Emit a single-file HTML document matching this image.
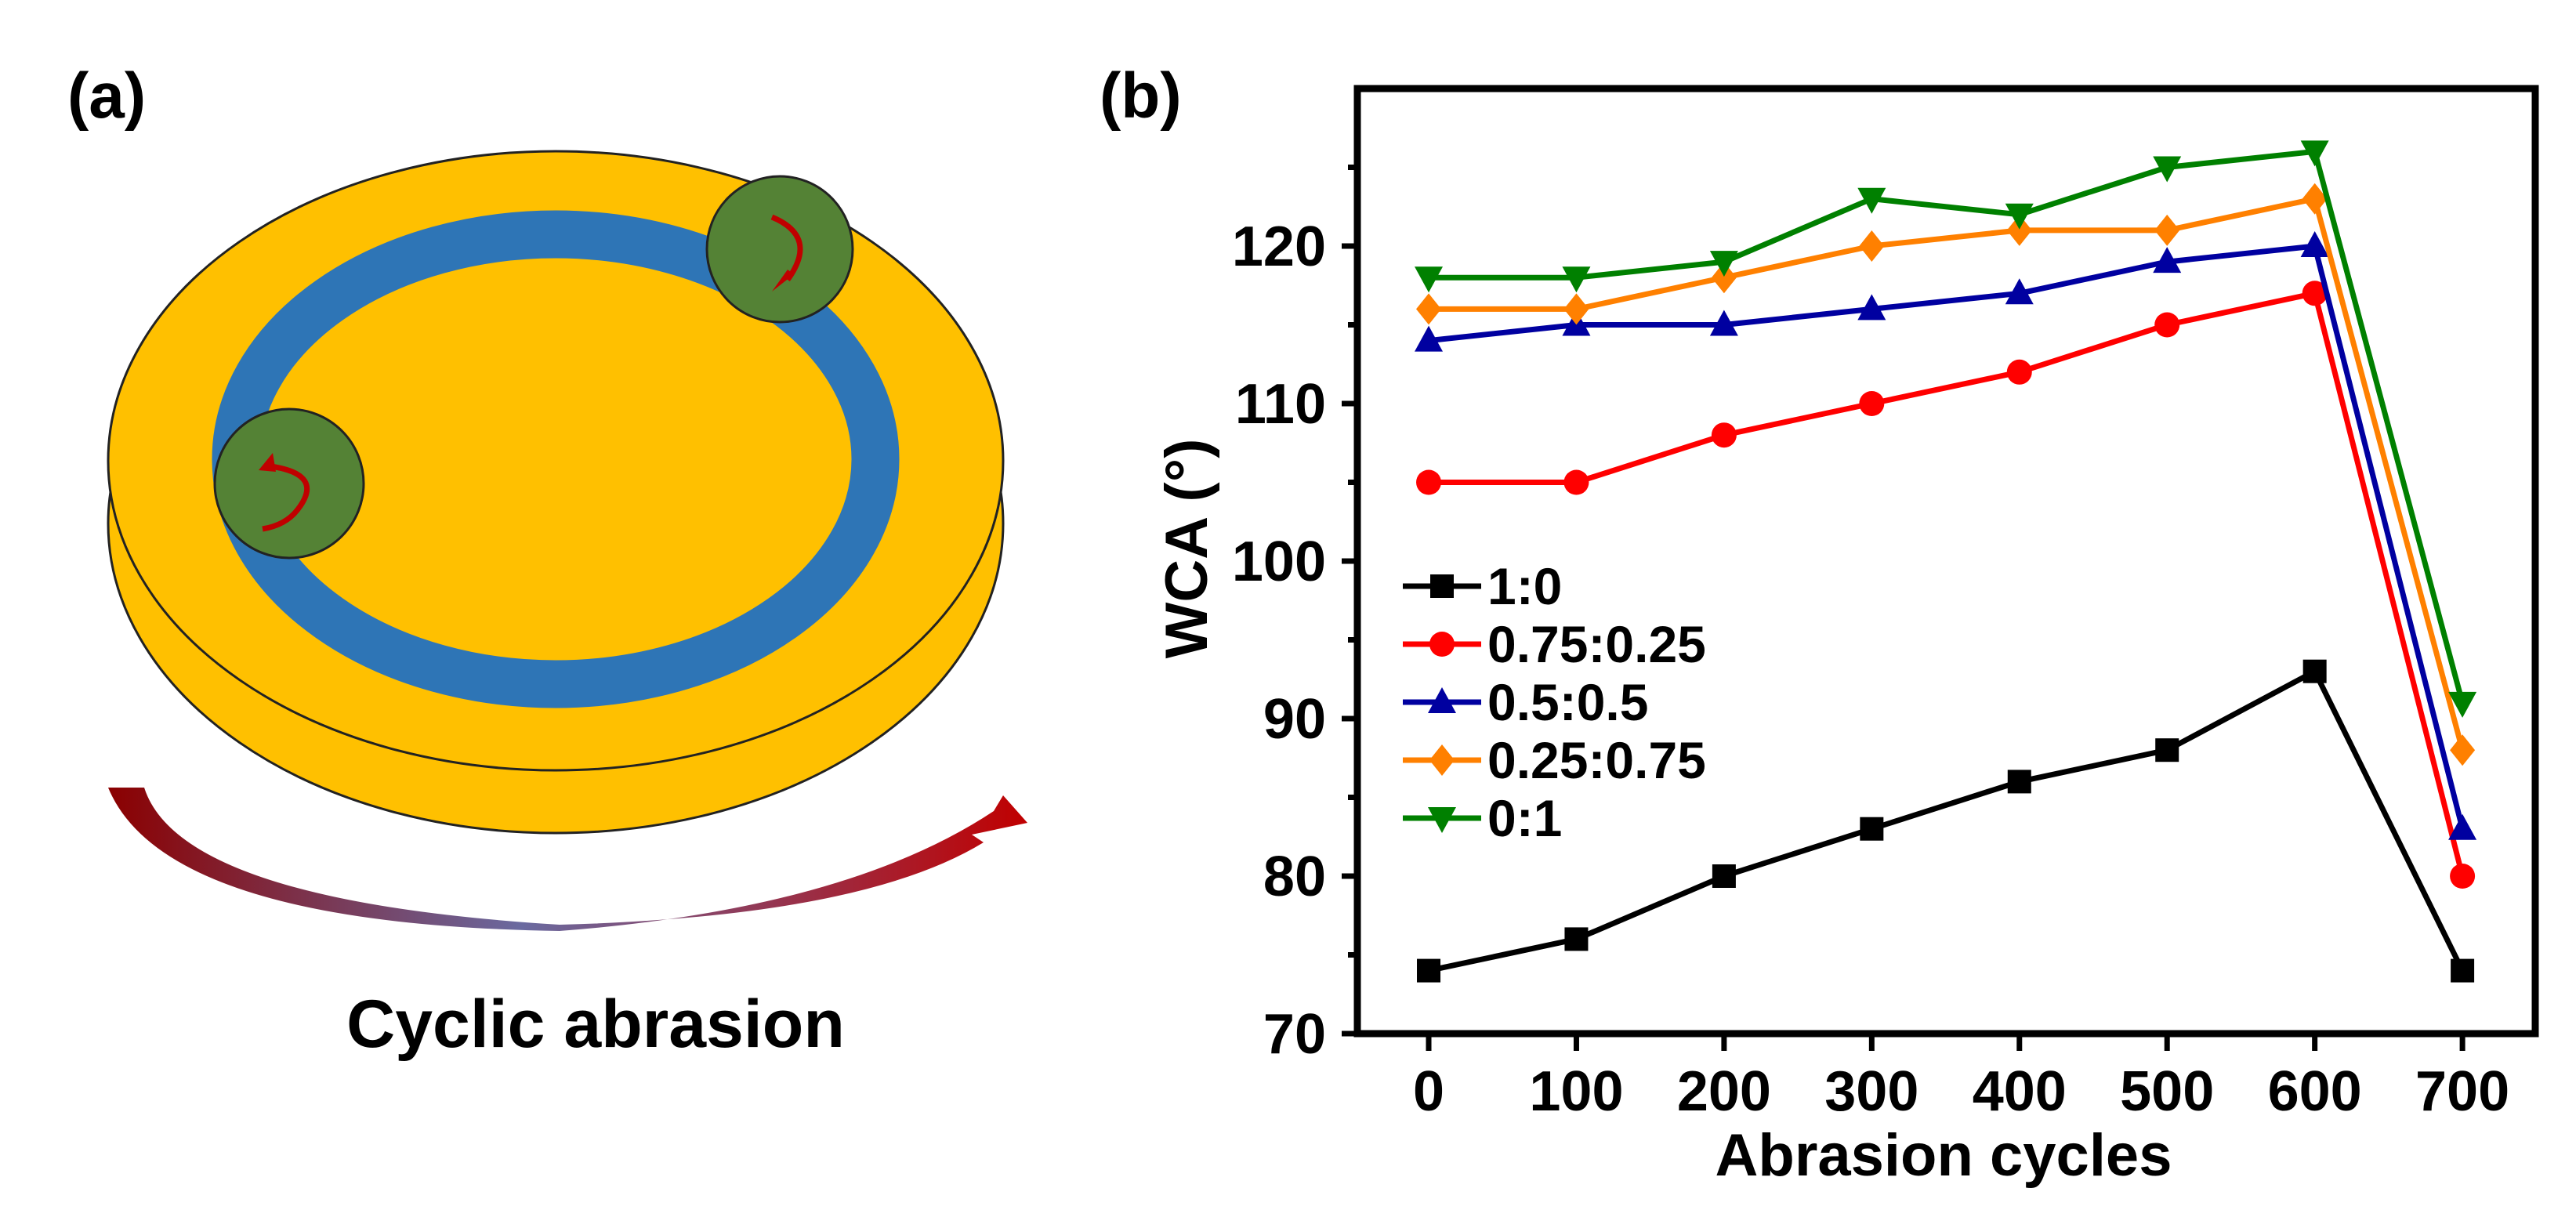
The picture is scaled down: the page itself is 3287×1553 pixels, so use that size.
<!DOCTYPE html>
<html><head><meta charset="utf-8"><style>
html,body{margin:0;padding:0;background:#fff;}
svg{display:block;font-family:"Liberation Sans",Arial,sans-serif;font-weight:bold;}
</style></head><body>
<svg id="root" width="3287" height="1553" viewBox="0 0 3287 1553" xmlns="http://www.w3.org/2000/svg">
<defs>
<linearGradient id="arrowGrad" x1="0" y1="0" x2="1" y2="0">
<stop offset="0" stop-color="#8b0000"/><stop offset="0.45" stop-color="#6a6aa0"/><stop offset="1" stop-color="#c00000"/>
</linearGradient>
</defs>
<g>
<text x="86" y="150" font-size="82">(a)</text>
<ellipse cx="709" cy="668" rx="571" ry="395" fill="#ffc000" stroke="#222" stroke-width="3"/>
<ellipse cx="709" cy="588" rx="571" ry="395" fill="#ffc000" stroke="#222" stroke-width="3"/>
<ellipse cx="709" cy="586" rx="408" ry="287" fill="none" stroke="#2e75b6" stroke-width="61"/>
<g>
<circle cx="995" cy="318" r="93" fill="#548235" stroke="#222" stroke-width="3"/>
<path d="M985 277 Q1045 302 1005 357" fill="none" stroke="#c00000" stroke-width="7"/>
<path d="M985 372 l28 -22 l-8 -6 z" fill="#c00000"/>
</g>
<g>
<circle cx="369" cy="617" r="95" fill="#548235" stroke="#222" stroke-width="3"/>
<path d="M345 595 Q415 605 380 650 Q365 670 335 675" fill="none" stroke="#c00000" stroke-width="7"/>
<path d="M348 578 l-18 22 l22 2 z" fill="#c00000"/>
</g>
<path d="M138 1005 L184 1005 Q230 1150 714 1180 Q1100 1170 1255 1075 L1240 1065 L1311 1050 L1280 1015 L1268 1035 Q1080 1160 714 1188 Q210 1180 138 1005 Z" fill="url(#arrowGrad)"/>
<text x="760" y="1336" font-size="86" text-anchor="middle">Cyclic abrasion</text>
</g>
<g>
<text x="1403" y="150" font-size="82">(b)</text>
<g id="chart"></g>
</g>
</svg>
<script>
const xCats = [0,100,200,300,400,500,600,700];
const yTicks = [70,80,90,100,110,120];
const seriesNames = ["1:0","0.75:0.25","0.5:0.5","0.25:0.75","0:1"];
const s1 = [74,76,80,83,86,88,93,74];
const s2 = [105,105,108,110,112,115,117,80];
const s3 = [114,115,115,116,117,119,120,83];
const s4 = [116,116,118,120,121,121,123,88];
const s5 = [118,118,119,123,122,125,126,91];

const NS="http://www.w3.org/2000/svg";
const L=1732,R=3235,T=113,B=1319;
const xMin=-48.3,xMax=749.3,yMin=70,yMax=130;
const xs=v=>L+(v-xMin)/(xMax-xMin)*(R-L);
const ys=v=>B-(v-yMin)/(yMax-yMin)*(B-T);
const g=document.getElementById('chart');
function mk(tag,attrs,parent){const e=document.createElementNS(NS,tag);for(const k in attrs)e.setAttribute(k,attrs[k]);(parent||g).appendChild(e);return e;}

const colors=["#000000","#ff0000","#0000a0","#ff8000","#008000"];
const shapes=["square","circle","up","diamond","down"];
const allS=[s1,s2,s3,s4,s5];
function marker(shape,x,y,color,parent){
  let e;
  if(shape==="square") e=mk('rect',{x:x-15,y:y-15,width:30,height:30,fill:color},parent);
  else if(shape==="circle") e=mk('circle',{cx:x,cy:y,r:16,fill:color},parent);
  else if(shape==="up") e=mk('polygon',{points:`${x},${y-19} ${x+18},${y+14} ${x-18},${y+14}`,fill:color},parent);
  else if(shape==="down") e=mk('polygon',{points:`${x},${y+19} ${x+18},${y-14} ${x-18},${y-14}`,fill:color},parent);
  else e=mk('polygon',{points:`${x},${y-20} ${x+16},${y} ${x},${y+20} ${x-16},${y}`,fill:color},parent);
  return e;
}
allS.forEach((s,i)=>{
  const sg=mk('g',{});
  
  
  const pl=mk('polyline',{points:s.map((v,j)=>xs(xCats[j])+','+ys(v)).join(' '),fill:'none',stroke:colors[i],'stroke-width':7,'stroke-linejoin':'round'},sg);
  
  
  s.forEach((v,j)=>{
    const m=marker(shapes[i],xs(xCats[j]),ys(v),colors[i],sg);
    
    
  });
});
const fr=mk('rect',{x:L,y:T,width:R-L,height:B-T,fill:'none',stroke:'#000','stroke-width':9});


yTicks.forEach(v=>{
  const t=mk('line',{x1:L-20,x2:L,y1:ys(v),y2:ys(v),stroke:'#000','stroke-width':7});
  
  
  const m=mk('line',{x1:L-12,x2:L,y1:ys(v+5),y2:ys(v+5),stroke:'#000','stroke-width':7});
  
  
  const tx=mk('text',{x:L-40,y:ys(v)+25,'font-size':72,'text-anchor':'end'});
  tx.textContent=v;
  
  
});
xCats.forEach(v=>{
  const t=mk('line',{x1:xs(v),x2:xs(v),y1:B,y2:B+22,stroke:'#000','stroke-width':7});
  
  
  const tx=mk('text',{x:xs(v),y:1417,'font-size':72,'text-anchor':'middle'});
  tx.textContent=v;
  
  
});
const xt=mk('text',{x:2480,y:1500,'font-size':76,'text-anchor':'middle'});
xt.textContent='Abrasion cycles';


const yt=mk('text',{x:1540,y:700,'font-size':76,'text-anchor':'middle',transform:'rotate(-90 1540 700)'});
yt.textContent='WCA (°)';


seriesNames.forEach((n,i)=>{
  const y=748+i*74;
  const lg=mk('g',{});
  
  
  mk('line',{x1:1790,x2:1890,y1:y,y2:y,stroke:colors[i],'stroke-width':7},lg);
  marker(shapes[i],1840,y,colors[i],lg);
  const tx=mk('text',{x:1898,y:y+23,'font-size':66},lg);
  tx.textContent=n;
});
</script>
</body></html>
